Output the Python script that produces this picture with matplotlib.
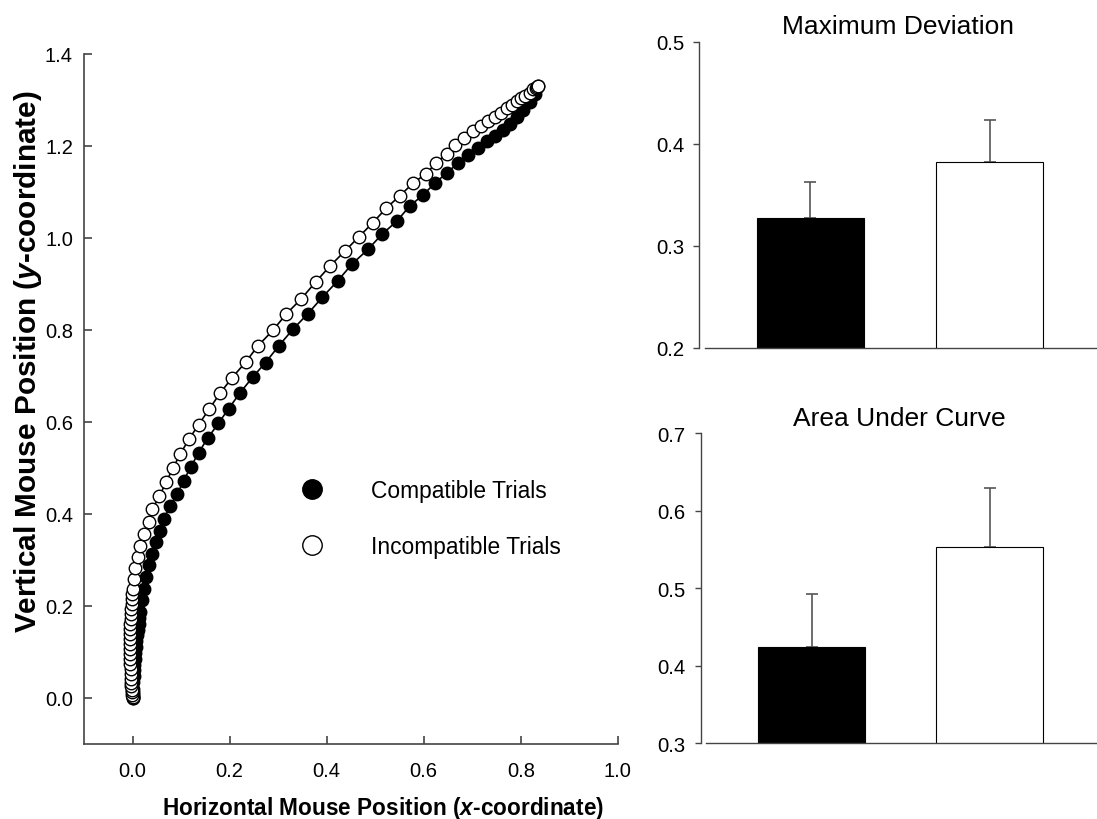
import matplotlib
matplotlib.use("Agg")
import matplotlib.pyplot as plt
from matplotlib.lines import Line2D

plt.rcParams['font.family'] = ['Liberation Sans', 'DejaVu Sans']
plt.rcParams['mathtext.fontset'] = 'custom'
plt.rcParams['mathtext.it'] = 'Liberation Sans:italic:bold'
plt.rcParams['mathtext.rm'] = 'Liberation Sans:bold'

# mouse trajectories (time-normalised)
comp_x = [0.0, 0.0, 0.0, 0.0, 0.0005, 0.0008, 0.002, 0.003, 0.004, 0.005, 0.006, 0.007,
          0.008, 0.0097, 0.011, 0.0124, 0.014, 0.016, 0.019, 0.024, 0.028, 0.034, 0.041,
          0.048, 0.057, 0.065, 0.077, 0.092, 0.105, 0.120, 0.136, 0.155, 0.177, 0.198,
          0.222, 0.248, 0.274, 0.301, 0.330, 0.361, 0.391, 0.423, 0.452, 0.485, 0.514,
          0.544, 0.571, 0.599, 0.623, 0.647, 0.671, 0.692, 0.712, 0.730, 0.747, 0.764,
          0.778, 0.792, 0.805, 0.819, 0.829, 0.836]
comp_y = [0.0, 0.004, 0.008, 0.013, 0.020, 0.035, 0.047, 0.060, 0.072, 0.085, 0.098, 0.111,
          0.123, 0.136, 0.148, 0.161, 0.174, 0.187, 0.212, 0.237, 0.263, 0.288, 0.313,
          0.338, 0.364, 0.390, 0.417, 0.443, 0.472, 0.502, 0.533, 0.565, 0.597, 0.629,
          0.664, 0.698, 0.729, 0.765, 0.801, 0.835, 0.871, 0.907, 0.943, 0.975, 1.008,
          1.036, 1.069, 1.094, 1.119, 1.141, 1.163, 1.181, 1.195, 1.210, 1.222, 1.235,
          1.248, 1.264, 1.278, 1.296, 1.314, 1.331]

incomp_x = [0.0, 0.0, -0.001, -0.002, -0.002, -0.003, -0.003, -0.003, -0.004, -0.004,
            -0.005, -0.005, -0.005, -0.005, -0.005, -0.005, -0.005, -0.005, -0.005, -0.004,
            -0.004, -0.003, -0.002, -0.002, -0.001, 0.0, 0.002, 0.0056, 0.0103, 0.016,
            0.023, 0.033, 0.041, 0.055, 0.069, 0.083, 0.098, 0.116, 0.136, 0.158, 0.180,
            0.205, 0.233, 0.258, 0.289, 0.317, 0.348, 0.377, 0.407, 0.437, 0.467, 0.495,
            0.523, 0.551, 0.578, 0.604, 0.626, 0.647, 0.664, 0.683, 0.702, 0.719, 0.733,
            0.747, 0.759, 0.771, 0.781, 0.792, 0.800, 0.809, 0.818, 0.826, 0.831, 0.834, 0.836]
incomp_y = [0.0, 0.003, 0.007, 0.012, 0.018, 0.025, 0.033, 0.042, 0.052, 0.063,
            0.074, 0.085, 0.096, 0.107, 0.118, 0.129, 0.140, 0.150, 0.161, 0.172,
            0.183, 0.194, 0.205, 0.215, 0.226, 0.237, 0.259, 0.282, 0.306, 0.330,
            0.356, 0.382, 0.411, 0.438, 0.469, 0.499, 0.530, 0.562, 0.594, 0.628, 0.662,
            0.696, 0.730, 0.765, 0.799, 0.835, 0.868, 0.904, 0.939, 0.971, 1.003, 1.033,
            1.065, 1.092, 1.119, 1.139, 1.163, 1.183, 1.202, 1.217, 1.233, 1.244, 1.254,
            1.264, 1.272, 1.282, 1.289, 1.298, 1.304, 1.309, 1.316, 1.323, 1.327, 1.329, 1.331]

# bar panels
conditions = ['Compatible Trials', 'Incompatible Trials']
bar_colors = ['black', 'white']
md_mean = [0.327, 0.382]
md_err = [0.036, 0.041]
auc_mean = [0.424, 0.553]
auc_err = [0.069, 0.076]

axis_col = '#444444'

fig = plt.figure(figsize=(10.97, 8.2), dpi=100)

# ---- trajectory panel ----
ax = fig.add_axes([0.0766, 0.0915, 0.4866, 0.8415])
ax.plot(comp_x, comp_y, color='black', lw=1.2, marker='o', ms=9,
        mfc='black', mec='black', mew=1.0, zorder=2)
ax.plot(incomp_x, incomp_y, color='black', lw=1.2, marker='o', ms=9,
        mfc='white', mec='black', mew=1.0, zorder=3)
ax.set_xlim(-0.1, 1.0)
ax.set_ylim(-0.1, 1.4)
ax.set_xticks([0.0, 0.2, 0.4, 0.6, 0.8, 1.0])
ax.set_yticks([0.0, 0.2, 0.4, 0.6, 0.8, 1.0, 1.2, 1.4])
ax.xaxis.set_major_formatter(matplotlib.ticker.FormatStrFormatter('%.1f'))
ax.yaxis.set_major_formatter(matplotlib.ticker.FormatStrFormatter('%.1f'))
for s in ['top', 'right']:
    ax.spines[s].set_visible(False)
for s in ['left', 'bottom']:
    ax.spines[s].set_color(axis_col)
    ax.spines[s].set_linewidth(1.2)
ax.tick_params(axis='x', direction='in', length=6, width=1.2, color=axis_col,
               labelsize=14.5, pad=12)
ax.tick_params(axis='y', direction='in', length=6, width=1.2, color=axis_col,
               labelsize=14.5, pad=8)
ax.set_xlabel('Horizontal Mouse Position ($x$-coordinate)', fontsize=16.3,
              fontweight='bold')
ax.xaxis.set_label_coords(0.56, -0.072)
ax.set_ylabel('Vertical Mouse Position ($y$-coordinate)', fontsize=21.4,
              fontweight='bold')
ax.yaxis.set_label_coords(-0.075, 0.555)

handles = [Line2D([], [], ls='none', marker='o', ms=14, mfc=c, mec='black', mew=1.0)
           for c in bar_colors]
ax.legend(handles, conditions, loc='center left', bbox_to_anchor=(0.406, 0.327),
          frameon=False, fontsize=16.4, handlelength=1.0, handletextpad=2.1,
          labelspacing=1.43, borderpad=0, borderaxespad=0)


def bar_panel(rect, means, errs, ylim, yticks, title):
    b = fig.add_axes(rect)
    b.bar([0, 1], means, width=0.6, color=bar_colors, edgecolor='black', lw=0.8, zorder=2)
    b.errorbar([0, 1], means, yerr=[[0, 0], errs], fmt='none', ecolor='#555555',
               elinewidth=1.2, capsize=4, capthick=1.2, zorder=1)
    b.set_xlim(-0.62, 1.6)
    b.set_ylim(*ylim)
    b.set_yticks(yticks)
    b.set_xticks([])
    for s in ['top', 'right']:
        b.spines[s].set_visible(False)
    for s in ['left', 'bottom']:
        b.spines[s].set_color(axis_col)
        b.spines[s].set_linewidth(1.0)
    b.spines['bottom'].set_bounds(-0.59, 1.6)
    b.tick_params(axis='y', direction='out', length=4, width=1.0, color=axis_col,
                  labelsize=14.6, pad=7)
    b.set_title(title, fontsize=19, pad=6)
    return b


bar_panel([0.6375, 0.5744, 0.3625, 0.3735], md_mean, md_err, (0.2, 0.5),
          [0.2, 0.3, 0.4, 0.5], 'Maximum Deviation')
bar_panel([0.639, 0.0923, 0.361, 0.3781], auc_mean, auc_err, (0.3, 0.7),
          [0.3, 0.4, 0.5, 0.6, 0.7], 'Area Under Curve')

fig.savefig('out.png', dpi=100)
